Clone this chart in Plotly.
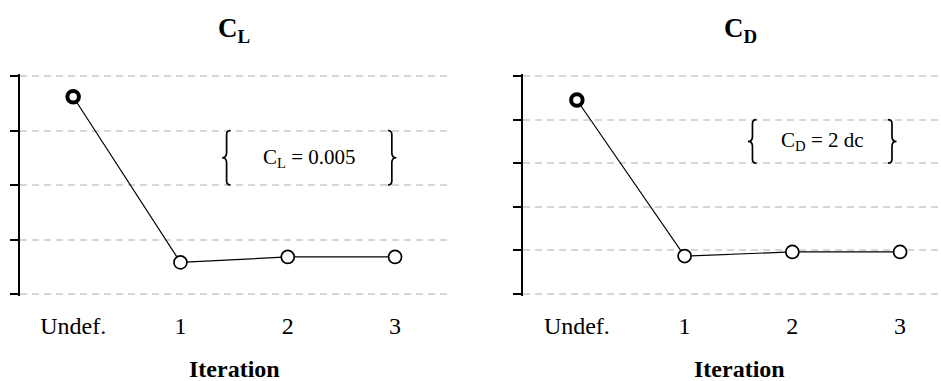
import plotly.graph_objects as go

# Iteration labels shared by both panels
iterations = ["Undef.", "1", "2", "3"]
iter_pos = [0, 1, 2, 3]

# Lift coefficient per iteration (grid spacing = 0.005)
cl_values = [0.0181, 0.0029, 0.0034, 0.0034]
cl_grid = [0.0, 0.005, 0.010, 0.015, 0.020]

# Drag coefficient per iteration, in drag counts (grid spacing = 2 dc)
cd_values = [8.90, 1.74, 1.93, 1.93]
cd_grid = [0, 2, 4, 6, 8, 10]

FONT = "Liberation Serif"
W, H = 941, 381

fig = go.Figure()


def add_series(xa, ya, values):
    # connecting line plus open markers; first (undeformed) marker drawn bold
    fig.add_trace(go.Scatter(
        x=iter_pos, y=values, xaxis=xa, yaxis=ya, mode="lines",
        line=dict(color="black", width=1.2), hoverinfo="skip", showlegend=False))
    fig.add_trace(go.Scatter(
        x=iter_pos[1:], y=values[1:], xaxis=xa, yaxis=ya, mode="markers",
        marker=dict(symbol="circle", size=13, color="white",
                    line=dict(color="black", width=1.7)),
        showlegend=False))
    fig.add_trace(go.Scatter(
        x=iter_pos[:1], y=values[:1], xaxis=xa, yaxis=ya, mode="markers",
        marker=dict(symbol="circle", size=11.5, color="white",
                    line=dict(color="black", width=4)),
        showlegend=False))


add_series("x", "y", cl_values)
add_series("x2", "y2", cd_values)


def brace_path(x0, y0, y1, px_per_x, px_per_y, direction):
    # curly brace between y0 and y1 at x0; direction -1 gives "{", +1 gives "}"
    d = direction
    hx = 4 / px_per_x
    tx = 4.5 / px_per_x
    ym = (y0 + y1) / 2
    hy = 4 / px_per_y
    ty = 5 / px_per_y
    xs = x0
    xo = xs - d * hx
    xt = xs + d * tx
    return (f"M {xo},{y1} Q {xs},{y1} {xs},{y1 - hy} "
            f"L {xs},{ym + ty} Q {xs},{ym} {xt},{ym} "
            f"Q {xs},{ym} {xs},{ym - ty} "
            f"L {xs},{y0 + hy} Q {xs},{y0} {xo},{y0}")


# panel geometry (paper fractions)
y_dom = [(H - 296) / H, (H - 74) / H]
x1_dom = [19.5 / W, 448.7 / W]
x2_dom = [523 / W, 1.0]
x1_range = [-0.5, 3.5]
x2_range = [-0.5, 3.38]


def padded(lo, hi, pad_px):
    # widen a range by a pixel margin so the edge grid lines are still drawn
    span_px = (y_dom[1] - y_dom[0]) * H
    pad = (hi - lo) * pad_px / (span_px - 2 * pad_px)
    return [lo - pad, hi + pad]


y1_range = padded(cl_grid[0], cl_grid[-1], 2)
y2_range = padded(cd_grid[0], cd_grid[-1], 2)

px_x1 = (x1_dom[1] - x1_dom[0]) * W / (x1_range[1] - x1_range[0])
px_x2 = (x2_dom[1] - x2_dom[0]) * W / (x2_range[1] - x2_range[0])
px_y1 = (y_dom[1] - y_dom[0]) * H / (y1_range[1] - y1_range[0])
px_y2 = (y_dom[1] - y_dom[0]) * H / (y2_range[1] - y2_range[0])

# brace annotations marking one grid interval
shapes = []
for xa, ya, xl, xr, lo, hi, pxx, pxy in [
    ("x", "y", 1.43, 2.97, cl_grid[2], cl_grid[3], px_x1, px_y1),
    ("x2", "y2", 1.63, 2.925, cd_grid[3], cd_grid[4], px_x2, px_y2),
]:
    for xb, dr in [(xl, -1), (xr, 1)]:
        shapes.append(dict(type="path", xref=xa, yref=ya,
                           path=brace_path(xb, lo, hi, pxx, pxy, dr),
                           line=dict(color="black", width=1.7)))


def label(text, x, y, size, **kw):
    return dict(text=text, x=x, y=y, xanchor="center", yanchor="middle",
                showarrow=False, font=dict(family=FONT, size=size, color="black"), **kw)


annotations = [
    label("<b>C<sub>L</sub></b>", 234 / W, 1 - 30 / H, 27, xref="paper", yref="paper"),
    label("<b>C<sub>D</sub></b>", 740 / W, 1 - 30 / H, 27, xref="paper", yref="paper"),
    label("<b>Iteration</b>", 234 / W, 1 - 369 / H, 24, xref="paper", yref="paper"),
    label("<b>Iteration</b>", 739 / W, 1 - 369 / H, 24, xref="paper", yref="paper"),
    label("C<sub>L</sub> = 0.005", (1.43 + 2.97) / 2, (cl_grid[2] + cl_grid[3]) / 2, 21,
          xref="x", yref="y"),
    label("C<sub>D</sub> = 2 dc", (1.63 + 2.925) / 2, (cd_grid[3] + cd_grid[4]) / 2, 21,
          xref="x2", yref="y2"),
]

common_x = dict(tickmode="array", tickvals=iter_pos, ticktext=iterations,
                showgrid=False, zeroline=False, showline=False, ticks="",
                ticklabelstandoff=13,
                tickfont=dict(family=FONT, size=24, color="black"), fixedrange=True)
common_y = dict(showticklabels=False, zeroline=False, showline=True, linecolor="black",
                linewidth=2, ticks="outside", ticklen=8, tickwidth=2, tickcolor="black",
                showgrid=True, gridcolor="#d6d6d6", gridwidth=2, griddash="7px,5px",
                domain=y_dom, fixedrange=True)

fig.update_layout(
    width=W, height=H,
    margin=dict(l=0, r=0, t=0, b=0),
    paper_bgcolor="white", plot_bgcolor="white",
    xaxis=dict(common_x, domain=x1_dom, range=x1_range, anchor="y"),
    yaxis=dict(common_y, range=y1_range, tickmode="array", tickvals=cl_grid, anchor="x"),
    xaxis2=dict(common_x, domain=x2_dom, range=x2_range, anchor="y2"),
    yaxis2=dict(common_y, range=y2_range, tickmode="array", tickvals=cd_grid, anchor="x2"),
    shapes=shapes,
    annotations=annotations,
)

fig.write_html("out.html")
